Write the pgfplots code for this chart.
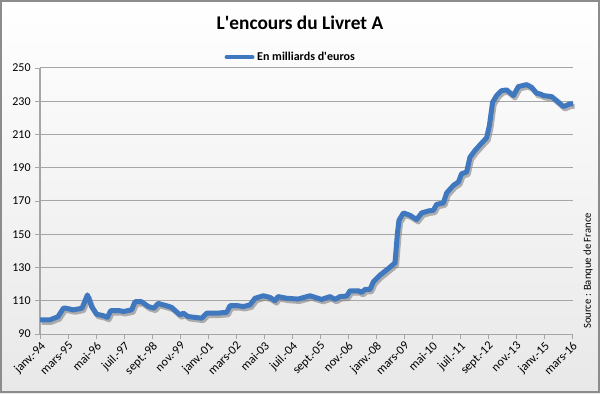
\documentclass[border=0pt]{standalone}
\usepackage{pgfplots}
\pgfplotsset{compat=1.18}
\usepackage{fontspec}
\setmainfont{Carlito}
\usetikzlibrary{shadings}
\definecolor{lineblue}{HTML}{3F78BE}
\definecolor{gridgray}{HTML}{A6A6A6}
\begin{document}
\begin{tikzpicture}
\useasboundingbox (0,0) rectangle (450pt,294.75pt);
\shade[top color=white, bottom color=black!9] (0,0) rectangle (450pt,294.75pt);
\draw[black!45, line width=1.5pt] (0.75pt,0.75pt) rectangle (449.25pt,294pt);
\begin{axis}[
  at={(30pt,44.25pt)}, anchor=south west,
  scale only axis, width=399.75pt, height=199.5pt,
  xmin=0, xmax=266.5, ymin=90, ymax=250,
  axis x line*=bottom, axis y line*=left,
  axis line style={gridgray, line width=0.75pt, -},
  ytick={90,110,...,250},
  xtick={0,14,...,266},
  xticklabels={janv.-94,mars-95,mai-96,juil.-97,sept.-98,nov.-99,janv.-01,mars-02,mai-03,juil.-04,sept.-05,nov.-06,janv.-08,mars-09,mai-10,juil.-11,sept.-12,nov.-13,janv.-15,mars-16},
  x tick label style={rotate=45, anchor=north east, font=\fontsize{9.2}{11}\selectfont, inner sep=1pt},
  y tick label style={font=\fontsize{9}{10}\selectfont},
  /pgf/number format/assume math mode=true,
  tick align=outside, major tick length=3.5pt,
  tick style={gridgray, line width=0.6pt},
  ymajorgrids, major grid style={gridgray, line width=0.75pt},
  legend style={at={(0.471,1.041)}, anchor=center, draw=none, fill=none, font=\bfseries\fontsize{9}{10}\selectfont, inner sep=0pt},
  legend image code/.code={\draw[#1, line width=3.5pt, line cap=round] (0pt,0pt) -- (19pt,0pt);},
  clip=false,
]
\pgfplotstableread{
x y
0 98.5
5 98.5
9 100.4
11.7 105.5
13 105.5
16.7 104.5
21 105.5
23.7 113.5
25.8 106.5
28.3 101.9
31.7 101
33.7 100
35.3 104
40 104
41.7 103.5
45.8 104.5
47.5 109.4
50.8 109.4
54.2 106.5
57 105.5
59 108.4
63.3 107
65.8 106
70 101.5
71.7 102.5
74 100.5
77.5 100
80.8 99.5
83.3 102.5
88.3 102.5
93.3 103
95 107
99 107
101.7 106.5
105 107.5
107.5 111.5
111.7 113
115 112
117.5 110
119 112.5
123.3 111.5
129 111
135 113
140.8 110.8
145 112.5
147.5 110.8
150 112.5
153.3 112.8
155 116
159.2 116
160.8 115
162.5 116.8
165 116.8
166.7 121.4
170 125.4
174.2 129.4
177.5 132.8
178.7 150.4
179.5 158.4
181.7 162.8
185 161.4
188.3 158.8
190.8 162.8
194.2 164
196.7 164.4
198.3 168
201.7 168.8
203.3 174.8
206.7 179.4
209.2 181.4
210.8 186.4
213.3 187.4
215 196.4
217.5 200.4
220.8 204.8
223.3 208
224.7 215.4
226.3 229.4
228.3 233.4
230.8 236.4
233.3 236.8
236.7 233.4
239.2 238.8
243.3 240
245.8 238.4
248.3 234.8
250 234.4
251.7 233.4
255.8 232.8
258.3 230.4
261.7 226.8
265 228.4
266.5 228.4
}\livret
\addplot[black!50, opacity=0.6, line width=3.75pt, line join=round, xshift=1.2pt, yshift=-1.8pt, forget plot] table {\livret};
\addplot[lineblue, line width=3.75pt, line join=round] table {\livret};
\addlegendentry{En milliards d\textquotesingle euros}
\end{axis}
\node[font=\bfseries\fontsize{14.5}{17}\selectfont] at (225pt,277.5pt) {L\textquotesingle encours du Livret A};
\node[rotate=90, font=\fontsize{8}{9}\selectfont] at (441pt,91.5pt) {Source : Banque de France};
\end{tikzpicture}
\end{document}
